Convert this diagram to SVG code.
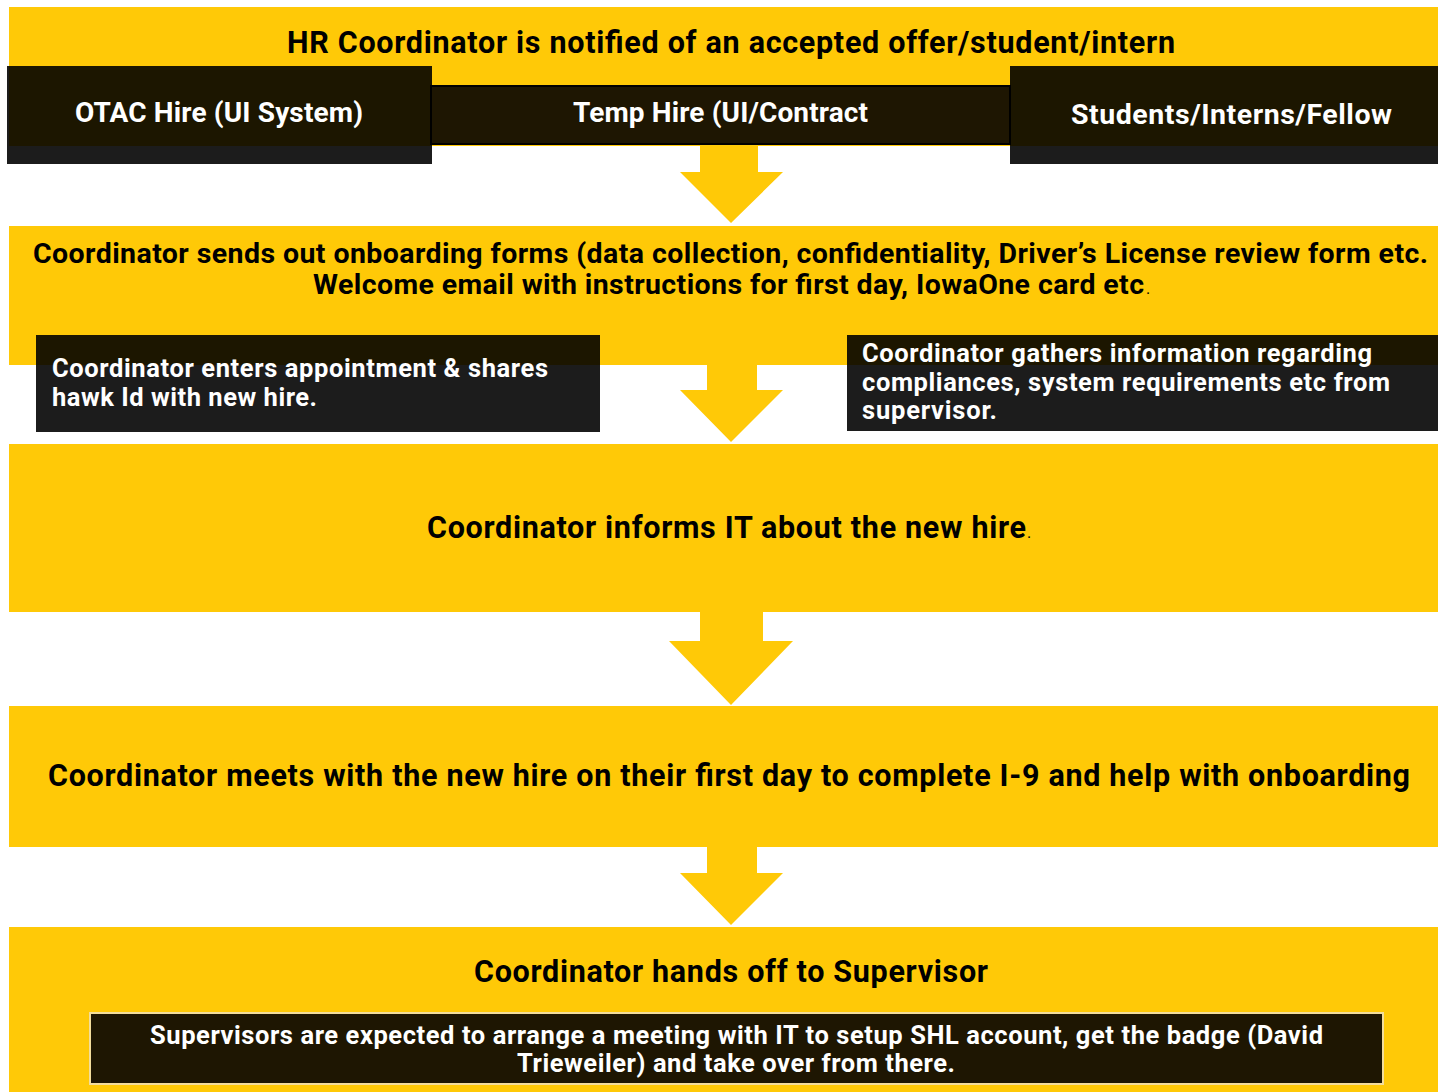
<svg xmlns="http://www.w3.org/2000/svg" width="1438" height="1092" viewBox="0 0 1438 1092">
<style>
.y{fill:#FFC907}
.dk{fill:#000;fill-opacity:0.89}
.h{font-family:Roboto,"Liberation Sans",sans-serif;font-weight:700;fill:#000}
.w{font-family:Roboto,"Liberation Sans",sans-serif;font-weight:700;fill:#fff}
.m{text-anchor:middle}
.dot{font-family:Roboto,"Liberation Sans",sans-serif;font-weight:400;font-size:16px;fill:#000}
.arr{fill:#FFC907}
</style>
<rect width="1438" height="1092" fill="#fff"/>
<g id="connectors">
<polygon class="arr" points="700,140 758,140 758,172 783,172 731,223 680,172 700,172"/>
<polygon class="arr" points="707,360 757,360 757,390 783,390 731,442 680,390 707,390"/>
<polygon class="arr" points="700,608 763,608 763,641 793,641 731,705 669,641 700,641"/>
<polygon class="arr" points="707,843 757,843 757,873 783,873 731,925 680,873 707,873"/>
</g>
<g id="node-notified">
<rect class="y" x="9" y="7" width="1429" height="139"/>
<text class="h m" x="731" y="53" font-size="30.5" textLength="888">HR Coordinator is notified of an accepted offer/student/intern</text>
</g>
<g id="node-otac">
<rect class="dk" x="7" y="66" width="425" height="98"/>
<text class="w m" x="219" y="122" font-size="28" textLength="288">OTAC Hire (UI System)</text>
</g>
<g id="node-temp">
<rect x="431" y="86" width="579" height="58" fill="#1e1602" stroke="#000" stroke-width="2"/>
<text class="w m" x="720.5" y="122" font-size="28" textLength="295">Temp Hire (UI/Contract</text>
</g>
<g id="node-students">
<rect class="dk" x="1010" y="66" width="428" height="98"/>
<text class="w m" x="1231.5" y="124" font-size="28.5" textLength="321">Students/Interns/Fellow</text>
</g>
<g id="node-forms">
<rect class="y" x="9" y="226" width="1429" height="139"/>
<text class="h m" x="730.5" y="263" font-size="28.5" textLength="1395">Coordinator sends out onboarding forms (data collection, confidentiality, Driver’s License review form etc.</text>
<text class="h" x="313" y="294" font-size="28.5" textLength="831">Welcome email with instructions for first day, IowaOne card etc</text>
<text class="dot" x="1146" y="294">.</text>
</g>
<g id="node-enters">
<rect class="dk" x="36" y="335" width="564" height="97"/>
<text class="w" x="52" y="377" font-size="25.5" textLength="496">Coordinator enters appointment &amp; shares</text>
<text class="w" x="52" y="406" font-size="25.5" textLength="265">hawk Id with new hire.</text>
</g>
<g id="node-gathers">
<rect class="dk" x="847" y="335" width="591" height="96"/>
<text class="w" x="862" y="362" font-size="25.5" textLength="510">Coordinator gathers information regarding</text>
<text class="w" x="862" y="391" font-size="25.5" textLength="528">compliances, system requirements etc from</text>
<text class="w" x="862" y="419" font-size="25.5" textLength="135">supervisor.</text>
</g>
<g id="node-informs">
<rect class="y" x="9" y="444" width="1429" height="168"/>
<text class="h" x="427" y="538" font-size="30.5" textLength="599">Coordinator informs IT about the new hire</text>
<text class="dot" x="1027" y="538">.</text>
</g>
<g id="node-meets">
<rect class="y" x="9" y="706" width="1429" height="141"/>
<text class="h m" x="729" y="786" font-size="30.5" textLength="1362">Coordinator meets with the new hire on their first day to complete I-9 and help with onboarding</text>
</g>
<g id="node-handoff">
<rect class="y" x="9" y="927" width="1429" height="165"/>
<text class="h m" x="731" y="982" font-size="30.5" textLength="514">Coordinator hands off to Supervisor</text>
<rect x="90" y="1013" width="1293" height="71" fill="#1e1602" stroke="#f3dd9c" stroke-width="2"/>
<text class="w m" x="736.5" y="1044" font-size="25.5" textLength="1173">Supervisors are expected to arrange a meeting with IT to setup SHL account, get the badge (David</text>
<text class="w m" x="736" y="1072" font-size="25.5" textLength="438">Trieweiler) and take over from there.</text>
</g>
</svg>
